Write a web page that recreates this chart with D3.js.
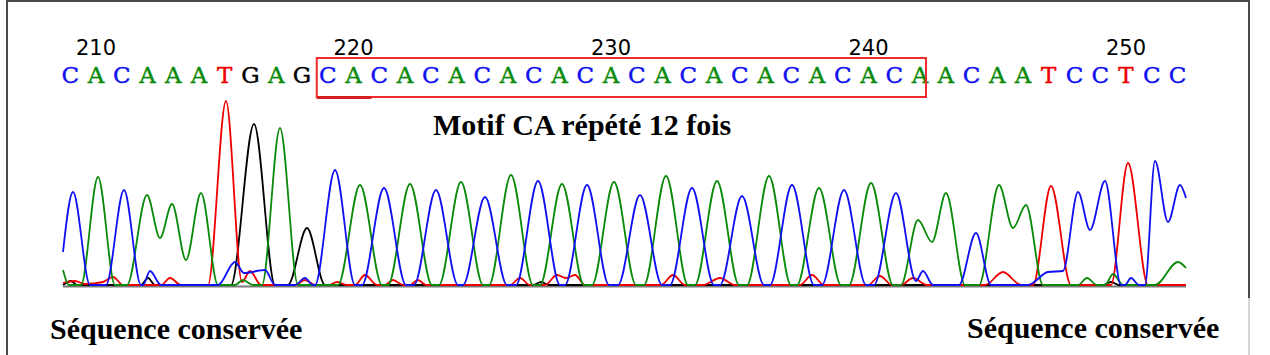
<!DOCTYPE html>
<html>
<head>
<meta charset="utf-8">
<script src="https://cdn.jsdelivr.net/npm/d3@7"></script>
<style>
  body { margin: 0; background: #fff; }
  svg { display: block; }
</style>
</head>
<body>
<svg></svg>
<script>
// base calls, first one is position 209
let firstPos = 209
let bases = 'CACAAATGAGCACACACACACACACACACACACAACAATCCTCC'.split('')
let tickPositions = [210, 220, 230, 240, 250]
let motifStart = 219
let motifEnd = 242
let motifLabel = 'Motif CA répété 12 fois'
let sideLabel = 'Séquence conservée'

// traces: [scan, signal] points (feet, tops, valleys)
let traceA = [[0,15],[6,0],[18,0],[35,108],[52,0],[64,0],[84,90],[97,47],[109,81],[123,25],[138,92],[155,0],
  [172,0],[180,5],[190,0],[199,0],[217,157],[235,0],
  [275,0],[297,100],[319,0],[325,0],[347,101],[369,0],[376,0],[398,103],[420,0],[426,0],[448,110],[470,0],
  [477,0],[499,101],[521,0],[529,0],[551,103],[573,0],[581,0],[603,109],[625,0],[632,0],[654,104],[676,0],
  [684,0],[706,109],[728,0],[734,0],[756,97],[778,0],[786,0],[808,102],[830,0],
  [838,0],[855,65],[869,43],[883,92],[902,0],[916,0],[936,100],[950,57],[963,80],[980,0],
  [1015,0],[1024,7],[1034,0],[1042,0],[1050,11],[1060,0],[1092,0],[1115,23],[1123,17]]
let traceC = [[0,33],[10,93],[27,0],[43,0],[61,95],[78,0],[80,0],[87,14],[98,0],
  [155,0],[172,23],[181,12],[202,15],[212,0],[232,0],[242,7],[250,0],[252,0],[272,115],[292,0],
  [299,0],[321,97],[343,0],[351,0],[373,95],[395,0],[400,0],[422,88],[444,0],[453,0],[475,104],[497,0],
  [502,0],[524,100],[546,0],[555,0],[577,90],[599,0],[607,0],[629,97],[651,0],[657,0],[679,89],[701,0],
  [707,0],[729,100],[751,0],[759,0],[781,95],[803,0],[811,0],[833,92],[853,4],[860,14],[870,0],
  [896,0],[913,52],[928,0],[965,0],[985,13],[1000,14],[1015,93],[1027,55],[1042,104],[1058,0],
  [1062,0],[1068,7],[1076,0],[1082,0],[1092,124],[1105,63],[1117,100],[1123,87]]
let traceG = [[0,0],[8,4],[14,0],[78,0],[85,7],[92,0],[168,0],[191,161],[212,0],[225,0],[244,57],[262,0],
  [470,0],[478,3],[486,0],[1040,0],[1048,3],[1056,0],[1123,0]]
let traceT = [[0,2],[12,4],[22,1],[40,3],[50,8],[60,0],[98,0],[107,7],[118,0],[145,0],[163,184],[179,3],[187,14],[198,0],
  [232,0],[242,5],[252,0],[266,0],[274,3],[284,0],[292,0],[302,10],[314,0],[322,0],[330,5],[340,0],[347,0],[355,5],[363,0],
  [447,0],[457,7],[467,0],[482,0],[494,10],[503,7],[512,10],[522,0],[598,0],[610,10],[622,0],[640,0],[657,7],[672,0],
  [737,0],[749,10],[761,0],[805,0],[817,9],[829,0],[838,0],[850,7],[864,0],[922,0],[940,13],[958,0],
  [970,0],[988,99],[1008,0],[1048,0],[1065,122],[1085,0],[1123,0]]

let colors = { A: '#0a8a0a', C: '#1010f0', G: '#000000', T: '#ee0000' }

let width = 1270
let height = 355

let svg = d3.select('svg')
    .attr('width', width)
    .attr('height', height)

let posScale = d3.scaleLinear().domain([210, 250]).range([96, 1126])
let scanScale = d3.scaleLinear().domain([0, 1123]).range([63, 1186])
let signalScale = d3.scaleLinear().domain([0, 184]).range([285, 101])

// frame
svg.append('path')
   .attr('d', 'M7,356 V1 H1249 V298')
   .attr('fill', 'none')
   .attr('stroke', '#4a4a4a')
   .attr('stroke-width', 2)
svg.append('line')
   .attr('x1', 1249).attr('x2', 1249)
   .attr('y1', 298).attr('y2', 355)
   .attr('stroke', '#c8c8c8')
   .attr('stroke-width', 1.5)

// position ticks
svg.selectAll('text.tick')
   .data(tickPositions)
   .enter()
   .append('text')
   .attr('class', 'tick')
   .attr('x', (d) => posScale(d))
   .attr('y', 55)
   .attr('text-anchor', 'middle')
   .style('font-family', '"DejaVu Sans", sans-serif')
   .style('font-size', '21px')
   .text((d) => d)

// base letters
svg.selectAll('text.base')
   .data(bases)
   .enter()
   .append('text')
   .attr('class', 'base')
   .attr('x', (d, i) => posScale(firstPos + i))
   .attr('y', 83)
   .attr('text-anchor', 'middle')
   .attr('fill', (d) => colors[d])
   .attr('stroke', (d) => colors[d])
   .attr('stroke-width', 0.4)
   .style('font-family', '"DejaVu Serif", serif')
   .style('font-size', '23px')
   .text((d) => d)

// motif box
let boxLeft = posScale(motifStart) - 11
let boxRight = posScale(motifEnd) + 6
svg.append('rect')
   .attr('x', boxLeft)
   .attr('y', 58)
   .attr('width', boxRight - boxLeft)
   .attr('height', 39)
   .attr('fill', 'none')
   .attr('stroke', '#ee2a2a')
   .attr('stroke-width', 2)
svg.append('line')
   .attr('x1', boxLeft).attr('x2', posScale(motifStart + 1.7))
   .attr('y1', 97.5).attr('y2', 97.5)
   .attr('stroke', '#d82020')
   .attr('stroke-width', 3)

svg.append('text')
   .attr('x', 433)
   .attr('y', 135)
   .style('font-family', '"Liberation Serif", "Times New Roman", serif')
   .style('font-weight', 'bold')
   .style('font-size', '30px')
   .text(motifLabel)

// baseline
svg.append('line')
   .attr('x1', scanScale(0)).attr('x2', scanScale(1123))
   .attr('y1', signalScale(0) + 1.5).attr('y2', signalScale(0) + 1.5)
   .attr('stroke', '#7a7a7a')
   .attr('stroke-width', 2)

// traces
let line = d3.line()
    .x((d) => scanScale(d[0]))
    .y((d) => signalScale(d[1]))
    .curve(d3.curveMonotoneX)

let traces = [
    { base: 'G', points: traceG },
    { base: 'T', points: traceT },
    { base: 'A', points: traceA },
    { base: 'C', points: traceC }
]

svg.selectAll('path.trace')
   .data(traces)
   .enter()
   .append('path')
   .attr('class', 'trace')
   .attr('d', (d) => line(d.points))
   .attr('fill', 'none')
   .attr('stroke', (d) => colors[d.base])
   .attr('stroke-width', 1.8)

// bottom labels
svg.append('text')
   .attr('x', 50)
   .attr('y', 339)
   .style('font-family', '"Liberation Serif", "Times New Roman", serif')
   .style('font-weight', 'bold')
   .style('font-size', '30px')
   .text(sideLabel)
svg.append('text')
   .attr('x', 967)
   .attr('y', 338)
   .style('font-family', '"Liberation Serif", "Times New Roman", serif')
   .style('font-weight', 'bold')
   .style('font-size', '30px')
   .text(sideLabel)
</script>
</body>
</html>
